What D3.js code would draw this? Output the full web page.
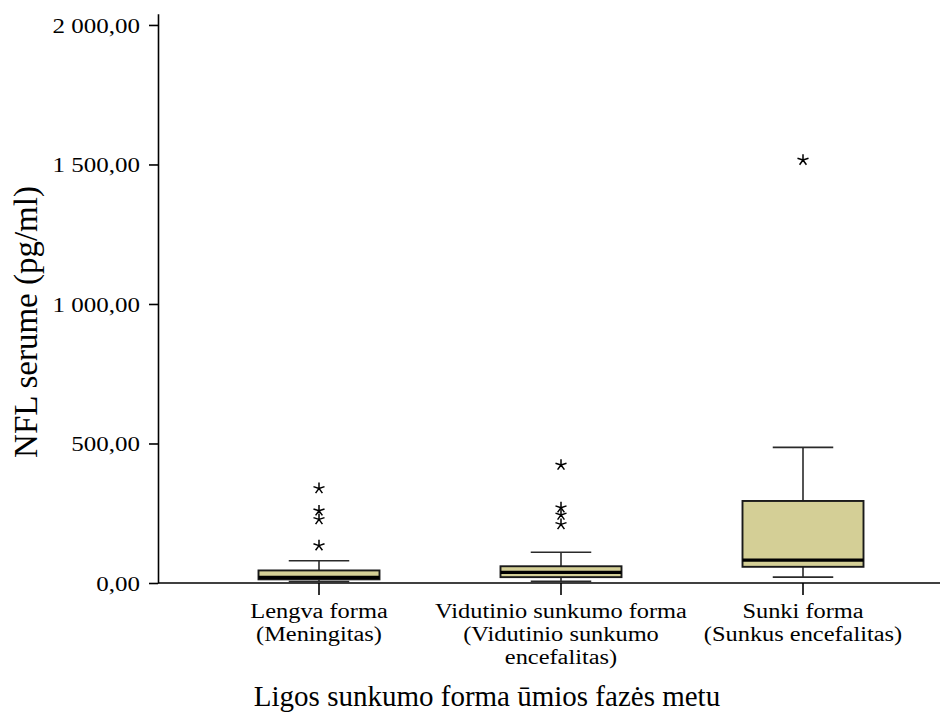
<!DOCTYPE html>
<html>
<head>
<meta charset="utf-8">
<script src="https://cdn.jsdelivr.net/npm/d3@7"></script>
<style>
  html, body { margin: 0; padding: 0; background: #fff; }
  svg { display: block; }
  text { font-family: "Liberation Serif", "Times New Roman", serif; fill: #000; }
</style>
</head>
<body>
<svg id="chart" width="940" height="714"></svg>
<script>
// Severity groups (labels split into lines)
const categories = ["Lengva forma", "Vidutinio sunkumo forma", "Sunki forma"];
const categoryLines = [
  ["Lengva forma", "(Meningitas)"],
  ["Vidutinio sunkumo forma", "(Vidutinio sunkumo", "encefalitas)"],
  ["Sunki forma", "(Sunkus encefalitas)"]
];

// Box-plot statistics of serum NFL (pg/ml)
const whiskerLow  = [5, 6, 21];
const q1          = [13, 21, 58];
const median      = [20, 38, 82];
const q3          = [45, 60, 294];
const whiskerHigh = [80, 110, 486];
const extremes    = [[134, 228, 259, 339], [210, 244, 270, 423], [1516]];

const yTicks = [0, 500, 1000, 1500, 2000];
const yTitle = "NFL serume (pg/ml)";
const xTitle = "Ligos sunkumo forma ūmios fazės metu";

const svg = d3.select("#chart");

// labels use a slightly widened serif face
const WIDEN = 1.19;

const y = d3.scaleLinear().domain([0, 2040]).range([583, 13.8]);
const x = d3.scaleBand().domain(categories).range([198, 924]).padding(0);

const locale = d3.formatLocale({ decimal: ",", thousands: "\u00a0", grouping: [3], currency: ["", ""] });
const fmt = locale.format(",.2f");

// Y axis
const yAxis = svg.append("g")
  .attr("transform", "translate(158,0)")
  .call(d3.axisLeft(y).tickValues(yTicks).tickFormat(fmt).tickSize(9).tickSizeOuter(0).tickPadding(8));
yAxis.select(".domain").attr("stroke", "#000").attr("stroke-width", 1.6);
yAxis.selectAll(".tick line").attr("stroke", "#000").attr("stroke-width", 1.6);
yAxis.selectAll(".tick text")
  .attr("font-size", 21)
  .attr("font-family", "Liberation Serif")
  .attr("fill", "#000")
  .attr("x", -18 / WIDEN)
  .attr("dy", "0.34em")
  .attr("transform", `scale(${WIDEN},1)`);

// X axis: ticks from the band scale, baseline drawn across the plot
const xAxis = svg.append("g")
  .attr("transform", "translate(0,583)")
  .call(d3.axisBottom(x).tickSize(12).tickFormat(""));
xAxis.select(".domain").remove();
xAxis.selectAll(".tick line").attr("stroke", "#000").attr("stroke-width", 1.6);
svg.append("line")
  .attr("x1", 158).attr("x2", 940)
  .attr("y1", y(0)).attr("y2", y(0))
  .attr("stroke", "#000").attr("stroke-width", 1.6);

// Category labels, one text per line
const labelG = svg.append("g");
categories.forEach((c, i) => {
  const cx = x(c) + x.bandwidth() / 2;
  categoryLines[i].forEach((ln, j) => {
    labelG.append("text")
      .attr("text-anchor", "middle")
      .attr("font-size", 20.5)
      .attr("transform", `translate(${cx},${618 + j * 23}) scale(${WIDEN},1)`)
      .text(ln);
  });
});

// Boxes
const boxW = x.bandwidth() / 2;
const capHalf = boxW / 4;
const groups = svg.append("g").selectAll("g")
  .data(categories.map((c, i) => ({ c, i })))
  .join("g")
  .attr("transform", d => `translate(${x(d.c) + x.bandwidth() / 2},0)`);

const lineCol = "#2a2a2a";
// whisker stems
groups.append("line")
  .attr("x1", 0).attr("x2", 0)
  .attr("y1", d => y(q3[d.i])).attr("y2", d => y(whiskerHigh[d.i]))
  .attr("stroke", lineCol).attr("stroke-width", 1.6);
groups.append("line")
  .attr("x1", 0).attr("x2", 0)
  .attr("y1", d => y(q1[d.i])).attr("y2", d => y(whiskerLow[d.i]))
  .attr("stroke", lineCol).attr("stroke-width", 1.6);
// whisker caps
groups.append("line")
  .attr("x1", -capHalf).attr("x2", capHalf)
  .attr("y1", d => y(whiskerHigh[d.i])).attr("y2", d => y(whiskerHigh[d.i]))
  .attr("stroke", lineCol).attr("stroke-width", 1.6);
groups.append("line")
  .attr("x1", -capHalf).attr("x2", capHalf)
  .attr("y1", d => y(whiskerLow[d.i])).attr("y2", d => y(whiskerLow[d.i]))
  .attr("stroke", lineCol).attr("stroke-width", 1.6);
// box
groups.append("rect")
  .attr("x", -boxW / 2).attr("width", boxW)
  .attr("y", d => y(q3[d.i])).attr("height", d => y(q1[d.i]) - y(q3[d.i]))
  .attr("fill", "#d4cf96").attr("stroke", "#1a1a1a").attr("stroke-width", 1.9);
// median
groups.append("line")
  .attr("x1", -boxW / 2).attr("x2", boxW / 2)
  .attr("y1", d => y(median[d.i])).attr("y2", d => y(median[d.i]))
  .attr("stroke", "#000").attr("stroke-width", 3.4);

// extreme values as five-armed asterisks
const starR = 5.8;
const starPath = d3.range(5).map(k => {
  const a = -Math.PI / 2 + k * 2 * Math.PI / 5;
  return `M0,0L${(starR * Math.cos(a)).toFixed(2)},${(starR * Math.sin(a)).toFixed(2)}`;
}).join("");
groups.each(function(d) {
  d3.select(this).selectAll("path.ext")
    .data(extremes[d.i])
    .join("path")
    .attr("class", "ext")
    .attr("d", starPath)
    .attr("transform", v => `translate(0,${y(v)})`)
    .attr("fill", "none").attr("stroke", "#000").attr("stroke-width", 1.5);
});

// Axis titles
svg.append("text")
  .attr("text-anchor", "middle")
  .attr("font-size", 33)
  .attr("transform", "translate(37,322) rotate(-90)")
  .text(yTitle);
svg.append("text")
  .attr("text-anchor", "middle")
  .attr("font-size", 29)
  .attr("x", 487).attr("y", 706)
  .text(xTitle);
</script>
</body>
</html>
